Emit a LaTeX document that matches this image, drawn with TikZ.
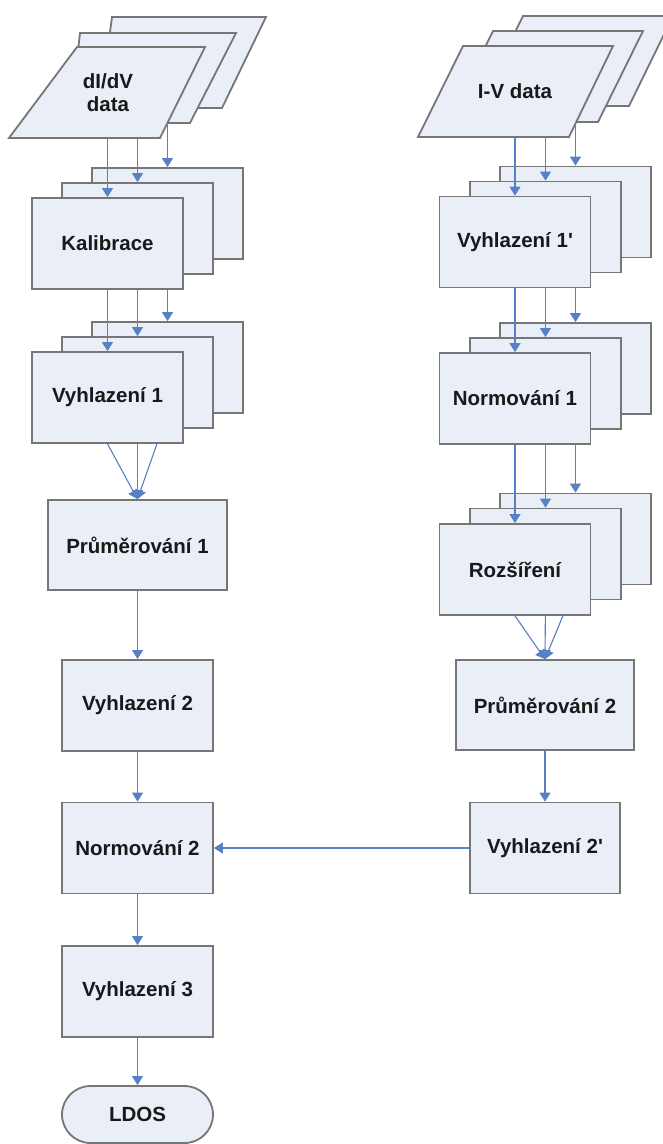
\documentclass[tikz,border=0pt]{standalone}
\usepackage{fontspec}
\setmainfont{Liberation Sans}
\usetikzlibrary{arrows.meta,shapes.misc}
\definecolor{boxfill}{RGB}{233,238,247}
\definecolor{boxline}{RGB}{118,118,118}
\definecolor{arrowc}{RGB}{88,128,196}
\definecolor{txt}{RGB}{25,25,25}
\pgfdeclarelayer{bg}
\pgfsetlayers{bg,main}
\begin{document}
\begin{tikzpicture}[x=1pt,y=-1pt,
  shp/.style={draw=boxline, fill=boxfill, line width=1.8pt, line join=miter},
  lbl/.style={font=\bfseries\fontsize{20.5}{23}\selectfont, text=txt, align=center},
  procbox/.style={shp, lbl, minimum width=151pt, minimum height=91pt, inner sep=0pt},
  wide/.style={minimum width=179pt, minimum height=90pt},
  flow/.style={draw=arrowc, line width=1.1pt, -{Triangle[width=11pt,length=9pt]}}]
\useasboundingbox (0,0) rectangle (663,1144);
\clip (0,0) rectangle (663,1144);

% ---------- left column ----------
\draw[shp] (112,17) -- (266,17) -- (222,108) -- (100,108) -- cycle;
\draw[shp] (80,33) -- (236,33) -- (190,123) -- (70,123) -- cycle;
\draw[shp] (77,47) -- (205,47) -- (160,138) -- (9,138) -- cycle;
\node[lbl] (D) at (108,93) {dI/dV\\data};
\coordinate (d1) at (107.5,138);
\coordinate (d2) at (137.5,138);
\coordinate (d3) at (167.5,123);

\node[procbox] (K3) at (167.5,213.5) {};
\node[procbox] (K2) at (137.5,228.5) {};
\node[procbox] (K1) at (107.5,243.5) {Kalibrace};

\node[procbox] (A3) at (167.5,367.5) {};
\node[procbox] (A2) at (137.5,382.5) {};
\node[procbox] (A1) at (107.5,397.5) {Vyhlazení 1};

\node[procbox, wide] (P1) at (137.5,545) {Průměrování 1};
\node[procbox] (V2) at (137.5,705.5) {Vyhlazení 2};
\node[procbox] (N2) at (137.5,848) {Normování 2};
\node[procbox] (V3) at (137.5,991.5) {Vyhlazení 3};
\node[procbox, rounded rectangle, minimum height=57pt] (L) at (137.5,1114.5) {LDOS};

% ---------- right column ----------
\draw[shp] (523,16) -- (673,16) -- (629,106) -- (478,106) -- cycle;
\draw[shp] (493,31) -- (643,31) -- (598,122) -- (448,122) -- cycle;
\draw[shp] (463,46) -- (613,46) -- (569,137) -- (418,137) -- cycle;
\node[lbl] (E) at (515,91) {I-V data};
\coordinate (e1) at (515,137);
\coordinate (e2) at (545.5,137);
\coordinate (e3) at (575.5,122);

\node[procbox] (B3) at (575.5,212) {};
\node[procbox] (B2) at (545.5,227) {};
\node[procbox] (B1) at (515,242) {Vyhlazení 1\textquotesingle};

\node[procbox] (C3) at (575.5,368.5) {};
\node[procbox] (C2) at (545.5,383.5) {};
\node[procbox] (C1) at (515,398.5) {Normování 1};

\node[procbox] (R3) at (575.5,539) {};
\node[procbox] (R2) at (545.5,554) {};
\node[procbox] (R1) at (515,569.5) {Rozšíření};

\node[procbox, wide, minimum width=178pt] (P2) at (545,705) {Průměrování 2};
\node[procbox, minimum width=150pt] (W2) at (545,848) {Vyhlazení 2\textquotesingle};

% ---------- connectors ----------
\draw[flow] (d1) -- (K1.north);
\draw[flow] (d2) -- (K2.north);
\draw[flow] (d3) -- (K3.north);
\draw[flow] (K1.south) -- (A1.north);
\draw[flow] (K2.south |- K1.south) -- (A2.north);
\draw[flow] (K3.south |- K1.south) -- (A3.north);

\draw[flow] (e1) -- (B1.north);
\draw[flow] (e2) -- (B2.north);
\draw[flow] (e3) -- (B3.north);
\draw[flow] (B1.south) -- (C1.north);
\draw[flow] (B2.south |- B1.south) -- (C2.north);
\draw[flow] (B3.south |- B1.south) -- (C3.north);
\draw[flow] (C1.south) -- (R1.north);
\draw[flow] (C2.south |- C1.south) -- (R2.north);
\draw[flow] (C3.south |- C1.south) -- (R3.north);

\begin{pgfonlayer}{bg}
\draw[flow] (A1.south) -- (P1.north);
\draw[flow] (A2.south) -- (P1.north);
\draw[flow] (A3.south) -- (P1.north);
\draw[flow] (R1.south) -- (P2.north);
\draw[flow] (R2.south) -- (P2.north);
\draw[flow] (R3.south) -- (P2.north);
\end{pgfonlayer}

\draw[flow] (P1) -- (V2);
\draw[flow] (V2) -- (N2);
\draw[flow] (N2) -- (V3);
\draw[flow] (V3) -- (L);
\draw[flow] (P2) -- (W2);
\draw[flow] (W2.west) -- (N2.east);
\end{tikzpicture}
\end{document}
